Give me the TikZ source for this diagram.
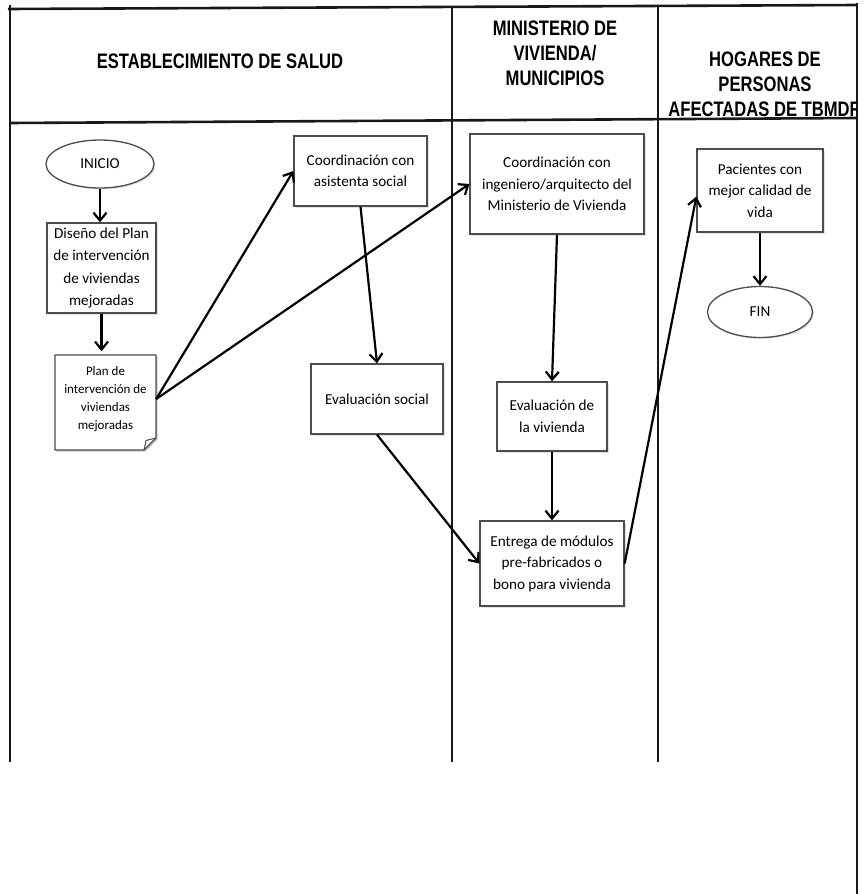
\documentclass[tikz,border=0pt]{standalone}
\usepackage{fontspec}
\setmainfont{Carlito}
\newfontfamily\hdrfont[FakeStretch=0.79]{Liberation Sans}
\usetikzlibrary{arrows.meta,shapes.geometric,shadows}

\begin{document}
\begin{tikzpicture}[x=1pt,y=-1pt,
  lane/.style={line width=2.6pt, black!90},
  hdr/.style={align=center, inner sep=0pt,
    font=\hdrfont\bfseries\fontsize{21}{25}\selectfont},
  box/.style={draw=black!70, line width=1.3pt, fill=white, align=center,
    inner sep=2pt, font=\fontsize{15.2}{21.5}\selectfont,
    drop shadow={opacity=0.22, shadow xshift=1.5pt, shadow yshift=-1.5pt}},
  term/.style={box, ellipse, inner sep=0pt},
  arr/.style={line width=2.2pt, black,
    -{Straight Barb[length=8pt,width=13pt]}},
]
\useasboundingbox (0,0) rectangle (866,894);

% swimlane frame
\draw[lane] (8,9) -- (857,5);
\draw[lane] (10,123) -- (857,118);
\draw[lane] (10,5) -- (10,762);
\draw[lane] (452,7) -- (452,762);
\draw[lane] (658,6) -- (658,762);
\draw[lane] (857,3) -- (857,894);

% lane headers
\node[hdr] (hsalud) at (220,61) {ESTABLECIMIENTO DE SALUD};
\node[hdr] (hmin) at (555,53) {MINISTERIO DE\\VIVIENDA/\\MUNICIPIOS};
\begin{scope}
  \clip (0,0) rectangle (856,894);
  \node[hdr] (hhog) at (765,84) {HOGARES DE\\PERSONAS\\AFECTADAS DE TBMDR};
\end{scope}

% health facility lane
\node[term, minimum width=108pt, minimum height=48pt] (ini) at (100,164) {INICIO};
\node[box, minimum width=109pt, minimum height=90pt,
  font=\fontsize{15.2}{22.5}\selectfont] (dis) at (101.5,268)
  {Diseño del Plan\\de intervención\\de viviendas\\mejoradas};

% document shape with folded corner
\fill[black, opacity=0.22] (56.5,356.5) -- (157.5,356.5) -- (157.5,439.5)
  -- (145.5,451.5) -- (56.5,451.5) -- cycle;
\draw[draw=black!70, line width=1.3pt, fill=white]
  (55,355) -- (156,355) -- (156,438) -- (144,450) -- (55,450) -- cycle;
\draw[black!70, line width=1pt] (156,438) -- (146,440.5) -- (144,450);
\node[align=center, inner sep=0pt, minimum width=101pt, minimum height=95pt,
  font=\fontsize{13}{18}\selectfont] (plan) at (105.5,399)
  {Plan de\\intervención de\\viviendas\\mejoradas};

\node[box, minimum width=133pt, minimum height=70pt] (asis) at (360.5,171)
  {Coordinación con\\asistenta social};
\node[box, minimum width=132pt, minimum height=70pt] (evs) at (377,399)
  {Evaluación social};

% housing ministry lane
\node[box, minimum width=174pt, minimum height=100pt] (ing) at (557,184)
  {Coordinación con\\ingeniero/arquitecto del\\Ministerio de Vivienda};
\node[box, minimum width=110pt, minimum height=69pt] (evv) at (552,416.5)
  {Evaluación de\\la vivienda};
\node[box, minimum width=144pt, minimum height=85pt] (ent) at (552,563.5)
  {Entrega de módulos\\pre-fabricados o\\bono para vivienda};

% households lane
\node[box, minimum width=126pt, minimum height=83pt] (pac) at (760,190.5)
  {Pacientes con\\mejor calidad de\\vida};
\node[term, minimum width=105pt, minimum height=51pt] (fin) at (760,312) {FIN};

% flow
\draw[arr] (ini.south) -- (ini.south |- dis.north);
\draw[arr] (dis.south) -- (dis.south |- plan.north);
\draw[arr] (plan.east) -- (asis.west);
\draw[arr] (plan.east) -- (ing.west);
\draw[arr] (asis.south) -- (evs.north);
\draw[arr] (evs.south) -- (ent.west);
\draw[arr] (ing.south) -- (evv.north);
\draw[arr] (evv.south) -- (ent.north);
\draw[arr] (ent.east) -- ([yshift=-6pt]pac.west);
\draw[arr] (pac.south) -- (fin.north);
\end{tikzpicture}
\end{document}
